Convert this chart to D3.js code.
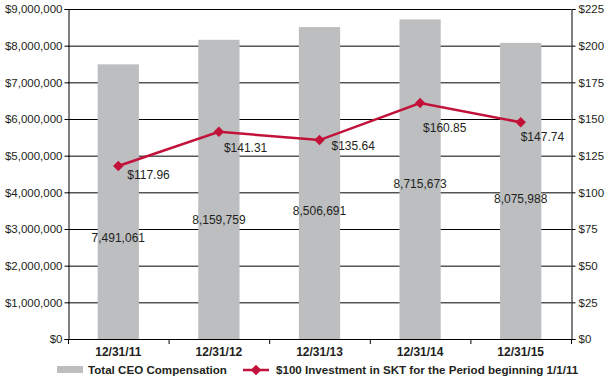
<!DOCTYPE html>
<html><head><meta charset="utf-8">
<script src="https://cdn.jsdelivr.net/npm/d3@7"></script>
<style>body{margin:0;background:#fff}svg{display:block}text{font-family:"Liberation Sans",Arial,Helvetica,sans-serif;fill:#231f20}</style>
</head><body><div id="chart"></div>
<script>
const categories = ["12/31/11","12/31/12","12/31/13","12/31/14","12/31/15"];
const compensation = [7491061, 8159759, 8506691, 8715673, 8075988];
const investment = [117.96, 141.31, 135.64, 160.85, 147.74];
const leftTicks = [0,1000000,2000000,3000000,4000000,5000000,6000000,7000000,8000000,9000000];
const rightTicks = [0,25,50,75,100,125,150,175,200,225];
const seriesNames = ["Total CEO Compensation","$100 Investment in SKT for the Period beginning 1/1/11"];
// label placement (in left-axis value units for bar labels; pixel offsets for line labels)
const barLabelLevel = [2750000, 3250000, 3500000, 4230000, 3820000];
const lineLabelOffset = [[9,9],[5,16],[12,6],[3,25],[0,14]];

const W=609,H=380, m={l:68,r:38,t:9,b:41};
const svg=d3.select("#chart").append("svg").attr("width",W).attr("height",H);
const x=d3.scaleBand().domain(categories).range([m.l,W-m.r]).paddingInner(0.59).paddingOuter(0.295);
const xb=d3.scaleBand().domain(categories).range([m.l,W-m.r]);
const yL=d3.scaleLinear().domain([0,9000000]).range([H-m.b,m.t]);
const yR=d3.scaleLinear().domain([0,225]).range([H-m.b,m.t]);
const fmtL=d=>"$"+d3.format(",")(d);

// gridlines
svg.append("g").selectAll("line").data(leftTicks).join("line")
 .attr("x1",m.l).attr("x2",W-m.r).attr("y1",d=>yL(d)+0.5).attr("y2",d=>yL(d)+0.5)
 .attr("stroke","#000").attr("stroke-width",1);

// bars
svg.append("g").selectAll("rect").data(compensation).join("rect")
 .attr("x",(d,i)=>x(categories[i])).attr("width",x.bandwidth())
 .attr("y",d=>yL(d)).attr("height",d=>yL(0)-yL(d)).attr("fill","#bcbec0");

// axes
const axL=svg.append("g").attr("transform",`translate(${m.l+0.5},0)`)
 .call(d3.axisLeft(yL).tickValues(leftTicks).tickFormat(fmtL).tickSize(4).tickPadding(2));
const axR=svg.append("g").attr("transform",`translate(${W-m.r+0.5},0)`)
 .call(d3.axisRight(yR).tickValues(rightTicks).tickFormat(d=>"$"+d).tickSize(4).tickPadding(3));
[axL,axR].forEach(a=>{a.select(".domain").attr("stroke","#000");a.selectAll("text").attr("font-size",11.5).attr("fill","#231f20").style("font-family","Liberation Sans, Arial, sans-serif");a.selectAll(".tick line").attr("stroke","#000");});

// bottom axis line + boundary ticks
const bx=svg.append("g");
bx.append("line").attr("x1",m.l).attr("x2",W-m.r).attr("y1",yL(0)+0.5).attr("y2",yL(0)+0.5).attr("stroke","#000");
const bounds=categories.map(c=>xb(c)).concat([W-m.r]);
bx.selectAll("line.t").data(bounds).join("line").attr("class","t")
 .attr("x1",d=>d+0.5).attr("x2",d=>d+0.5).attr("y1",yL(0)).attr("y2",yL(0)+5).attr("stroke","#000");
bx.selectAll("text").data(categories).join("text")
 .attr("x",d=>xb(d)+xb.bandwidth()/2).attr("y",yL(0)+17).attr("text-anchor","middle")
 .attr("font-size",12).attr("font-weight","bold").text(d=>d);

// bar labels
svg.append("g").selectAll("text").data(compensation).join("text")
 .attr("x",(d,i)=>xb(categories[i])+xb.bandwidth()/2).attr("y",(d,i)=>yL(barLabelLevel[i]))
 .attr("dy","0.35em").attr("text-anchor","middle").attr("font-size",12).text(d=>d3.format(",")(d));

// line
const cx=i=>xb(categories[i])+xb.bandwidth()/2;
const red="#c2123a";
svg.append("path").datum(investment)
 .attr("d",d3.line().x((d,i)=>cx(i)).y(d=>yR(d)))
 .attr("fill","none").attr("stroke",red).attr("stroke-width",2.5);
const diamond=d3.symbol().type(d3.symbolDiamond2).size(70);
svg.append("g").selectAll("path").data(investment).join("path")
 .attr("transform",(d,i)=>`translate(${cx(i)},${yR(d)})`).attr("d",diamond).attr("fill",red);
svg.append("g").selectAll("text").data(investment).join("text")
 .attr("x",(d,i)=>cx(i)+lineLabelOffset[i][0]).attr("y",(d,i)=>yR(d)+lineLabelOffset[i][1])
 .attr("dy","0.35em").attr("font-size",12).text(d=>"$"+d3.format(".2f")(d));

// legend
const lg=svg.append("g");
lg.append("rect").attr("x",57).attr("y",366).attr("width",26).attr("height",7).attr("fill","#bcbec0");
lg.append("text").attr("x",88).attr("y",370).attr("dy","0.35em").attr("font-size",11.6).attr("font-weight","bold").text(seriesNames[0]);
lg.append("line").attr("x1",243).attr("x2",269).attr("y1",370).attr("y2",370).attr("stroke",red).attr("stroke-width",2.5);
lg.append("path").attr("transform","translate(256,370)").attr("d",diamond).attr("fill",red);
lg.append("text").attr("x",276).attr("y",370).attr("dy","0.35em").attr("font-size",11.6).attr("font-weight","bold").text(seriesNames[1]);
</script></body></html>
